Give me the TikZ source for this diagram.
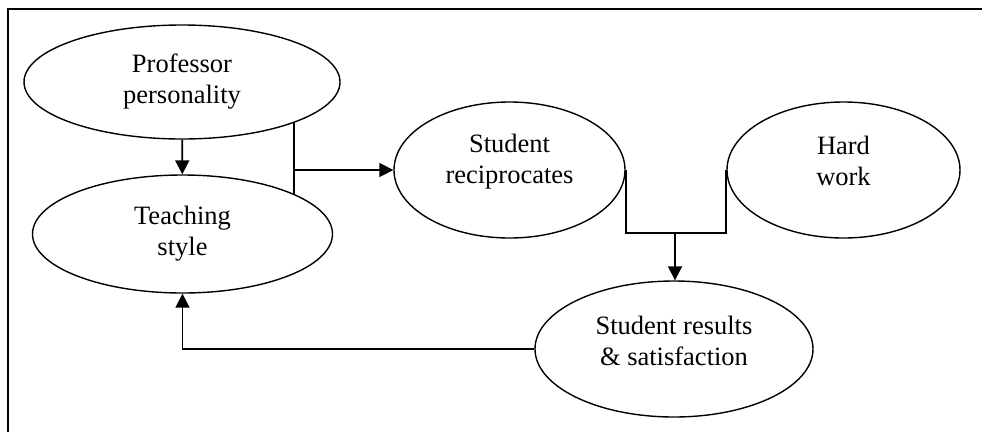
\documentclass[tikz,border=0pt]{standalone}
\usepackage{fontspec}
\setmainfont{Liberation Serif}
\usetikzlibrary{shapes.geometric,arrows.meta}

\begin{document}
\begin{tikzpicture}[x=1pt,y=-1pt,
    bubble/.style={draw, ellipse, line width=1.4pt, align=center, inner sep=0pt,
      font=\fontsize{26.5}{31}\selectfont},
    link/.style={line width=1.8pt},
    arr/.style={link, -{Triangle[length=14pt,width=14pt]}}]
    \useasboundingbox (0,0) rectangle (982,432);
    \draw[line width=2.6pt] (8,432) -- (8,9) -- (982,9);

    \node[bubble, minimum width=316pt, minimum height=114pt] (prof) at (182,82)
      {Professor\\personality};
    \node[bubble, minimum width=300pt, minimum height=118pt] (teach) at (182.5,234)
      {Teaching\\style};
    \node[bubble, minimum width=231pt, minimum height=136pt, text depth=23pt] (recip) at (509.5,170)
      {Student\\reciprocates};
    \node[bubble, minimum width=233pt, minimum height=136pt, text depth=18pt] (hard) at (843.5,170)
      {Hard\\work};
    \node[bubble, minimum width=278pt, minimum height=136pt, text depth=17pt] (results) at (674,349)
      {Student results\\\& satisfaction};
    \coordinate (join) at (675,233);

    \draw[arr] (prof) -- (teach);
    \draw[link] (prof.-20) -- (prof.-20 |- teach.20);
    \draw[arr] (prof.-20 |- recip.west) -- (recip.west);
    \draw[link] (recip.east) |- (join) -| (hard.west);
    \draw[arr] (join) -- (join |- results.north);
    \draw[arr] (results.west) -| (teach.south);
  \end{tikzpicture}
\end{document}
